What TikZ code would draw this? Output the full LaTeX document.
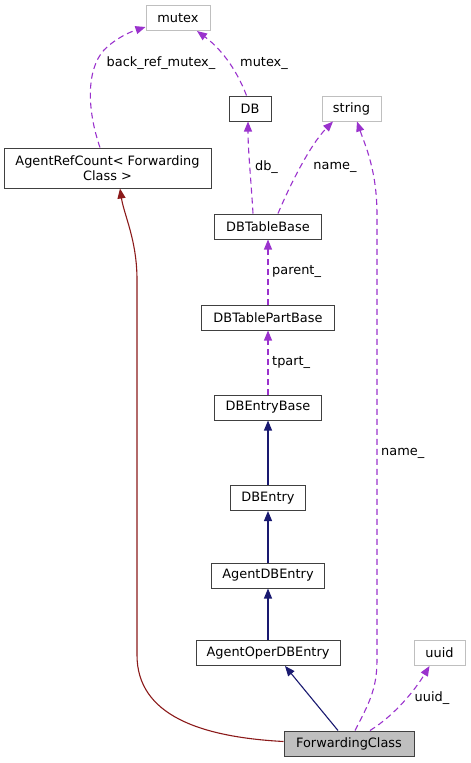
\documentclass[tikz,border=0pt]{standalone}
\usepackage{fontspec}
\setmainfont{DejaVu Sans}
\usetikzlibrary{arrows.meta,calc}
\definecolor{edgepurple}{HTML}{9A32CD}
\definecolor{edgenavy}{HTML}{191970}
\definecolor{edgered}{HTML}{8B1A1A}
\definecolor{boxgray}{HTML}{BFBFBF}
\definecolor{boxline}{HTML}{404040}
\begin{document}
\begin{tikzpicture}[x=1pt,y=-1pt,
  every node/.style={font=\fontsize{12.9}{15}\selectfont, inner sep=0pt, text=black},
  cls/.style={draw=boxline, line width=1pt, fill=white, minimum height=25pt, align=center},
  ext/.style={draw=boxgray, line width=1pt, fill=white, minimum height=25pt},
  main/.style={draw=boxline, line width=1pt, fill=boxgray, minimum height=25pt},
  inh/.style={color=edgenavy, draw=edgenavy, line width=1.1pt, -{Triangle[length=10pt,width=8pt]}},
  use/.style={color=edgepurple, draw=edgepurple, line width=1.1pt, dash pattern=on 6pt off 4pt, -{Triangle[length=10pt,width=8pt]}},
  tmpl/.style={color=edgered, draw=edgered, line width=1.1pt, -{Triangle[length=10pt,width=8pt]}},
  lbl/.style={fill=none}
]
\useasboundingbox (0,0) rectangle (471,763);

% nodes
\node[ext, minimum width=64pt] (mutex) at (178,18) {mutex};
\node[cls, minimum width=42pt] (db) at (250,108.5) {DB};
\node[ext, minimum width=59pt] (string) at (351.5,108.5) {string};
\node[cls, minimum width=207pt, minimum height=40pt] (arc) at (107.5,168) {AgentRefCount< Forwarding\\Class >};
\node[cls, minimum width=107pt] (dbtb) at (268,226.5) {DBTableBase};
\node[cls, minimum width=133pt] (dbtpb) at (268,317.5) {DBTablePartBase};
\node[cls, minimum width=107pt] (dbeb) at (268,407.5) {DBEntryBase};
\node[cls, minimum width=75pt] (dbe) at (268,498) {DBEntry};
\node[cls, minimum width=113pt] (adb) at (268,575.5) {AgentDBEntry};
\node[cls, minimum width=144pt] (aodb) at (268,653) {AgentOperDBEntry};
\node[ext, minimum width=51pt] (uuid) at (439.5,653) {uuid};
\node[main, minimum width=130pt] (fc) at (349,743.5) {ForwardingClass};

% inheritance
\draw[inh] ($(fc.north)+(-11,0)$) -- ($(aodb.south)+(17,0)$);
\draw[inh] (aodb.north) -- (adb.south);
\draw[inh] (adb.north) -- (dbe.south);
\draw[inh] (dbe.north) -- (dbeb.south);

% template instance
\draw[tmpl] ($(fc.west)+(0,-2)$) .. controls (200,737) and (137,715) .. (137,655)
  -- (137,280) .. controls (137,240) and (124,215) .. ($(arc.south)+(12.5,0)$);

% usage
\draw[use] (dbeb.north) -- (dbtpb.south);
\node[lbl, anchor=west] (ltpart) at (272,362) {tpart\_};
\draw[use] (dbtpb.north) -- (dbtb.south);
\node[lbl, anchor=west] (lparent) at (272,271) {parent\_};

\draw[use] ($(dbtb.north)+(-15,0)$) .. controls (251,180) and (248,150) .. ($(db.south)+(-2,0)$);
\node[lbl] (ldb) at (266.5,167) {db\_};

\draw[use] ($(dbtb.north)+(10,0)$) .. controls (290,185) and (310,145) .. ($(string.south)+(-18.5,0)$);
\node[lbl] (lname1) at (335,167) {name\_};

\draw[use] ($(fc.north)+(6,0)$) .. controls (368,705) and (377,690) .. (377,660)
  -- (377,215) .. controls (377,170) and (365,145) .. ($(string.south)+(5.5,0)$);
\node[lbl, anchor=west] (lname2) at (381,453) {name\_};

\draw[use] ($(fc.north)+(21,0)$) .. controls (395,715) and (415,690) .. ($(uuid.south)+(-10,0)$);
\node[lbl] (luuid) at (432,698) {uuid\_};

\draw[use] ($(db.north)+(-3.5,0)$) .. controls (236,68) and (220,48) .. ($(mutex.south)+(19,0)$);
\node[lbl] (lmutex) at (264,63) {mutex\_};

\draw[use] ($(arc.north)+(-7.5,0)$) .. controls (87,110) and (86,70) .. (104,50)
  .. controls (116,38) and (130,32) .. ($(mutex.west)+(0,9)$);
\node[lbl] (lback) at (161,63) {back\_ref\_mutex\_};
\end{tikzpicture}
\end{document}
